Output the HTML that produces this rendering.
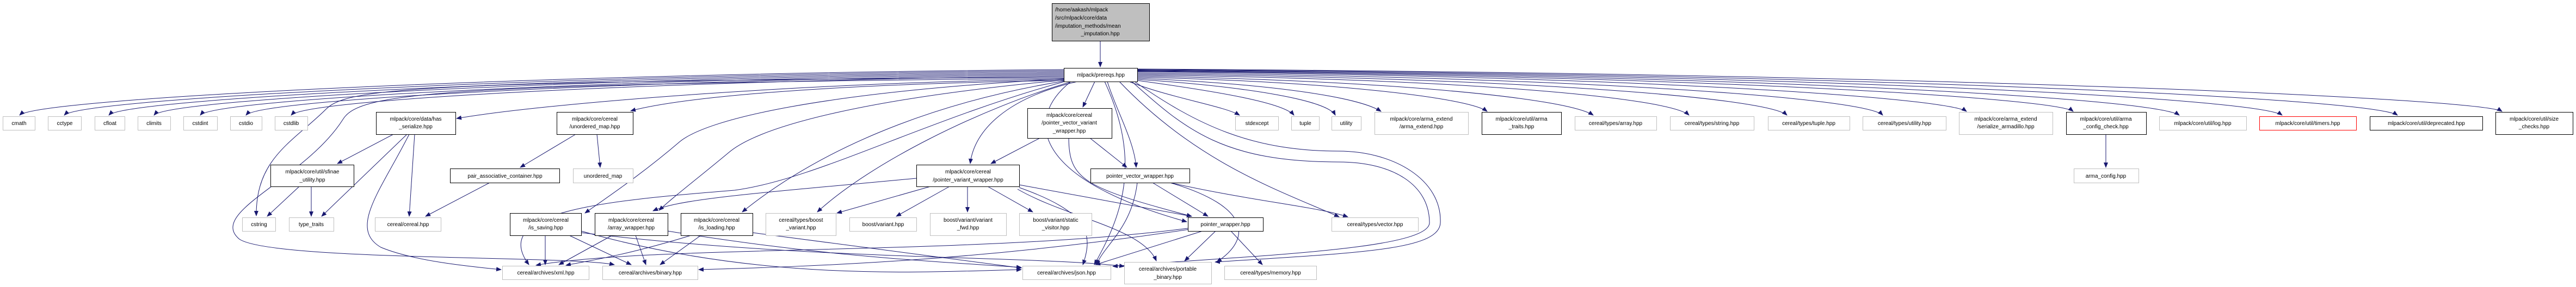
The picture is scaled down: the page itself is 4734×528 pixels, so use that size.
<!DOCTYPE html>
<html><head><meta charset="utf-8"><style>
html,body{margin:0;padding:0;background:#fff;}
svg{display:block}
text{font-family:"Liberation Sans",Arial,sans-serif;font-size:10px;fill:#000}
.e{fill:none;stroke:#191970;stroke-width:1;marker-end:url(#a)}
.g{fill:#fff;stroke:#bfbfbf}
.b{fill:#fff;stroke:#000}
.r{fill:#fff;stroke:#ff0000}
</style></head><body>
<svg width="4734" height="528" viewBox="0 0 4734 528" xmlns="http://www.w3.org/2000/svg">
<defs><marker id="a" markerWidth="10" markerHeight="8" refX="9" refY="4" orient="auto" markerUnits="userSpaceOnUse"><path d="M0,0 L10,4 L0,8 z" fill="#191970"/></marker></defs>
<g>
<path class="e" d="M2022,75 L2022,123"/>
<path class="e" d="M1955,128 C1000,135 70,180 36,212"/>
<path class="e" d="M1955,130 C1050,137 150,180 118,212"/>
<path class="e" d="M1955,132 C1100,139 230,180 200,212"/>
<path class="e" d="M1955,134 C1150,141 310,180 283,212"/>
<path class="e" d="M1955,136 C1200,143 395,180 368,212"/>
<path class="e" d="M1955,138 C1250,145 480,180 452,212"/>
<path class="e" d="M1955,140 C1300,147 565,180 535,212"/>
<path class="e" d="M1955,142 C800,150 640,160 600,200 C540,260 470,290 471,397"/>
<path class="e" d="M1955,144 C800,155 660,170 630,220 C560,330 380,390 440,440 C500,480 1050,470 1129,487"/>
<path class="e" d="M1955,146 C1500,150 1000,190 839,218"/>
<path class="e" d="M1955,148 C1500,155 1250,180 1159,204"/>
<path class="e" d="M2012,150 L1990,197"/>
<path class="e" d="M1980,150 C1850,180 1790,240 1783,301"/>
<path class="e" d="M2035,150 C2050,200 2085,260 2088,308"/>
<path class="e" d="M1968,150 C1880,220 1900,330 2181,408"/>
<path class="e" d="M2057,150 C2200,300 2350,350 2461,399"/>
<path class="e" d="M2085,150 C2200,230 2300,278 2460,278 C2560,278 2650,330 2647,410 C2645,460 2500,465 2233,482"/>
<path class="e" d="M2080,150 C2180,240 2250,298 2460,298 C2560,298 2627,340 2627,410 C2625,460 2300,470 2045,490"/>
<path class="e" d="M2075,150 C2150,180 2250,195 2278,212"/>
<path class="e" d="M2090,148 C2250,170 2360,190 2378,212"/>
<path class="e" d="M2090,146 C2300,160 2440,185 2454,212"/>
<path class="e" d="M2090,144 C2350,155 2500,180 2538,205"/>
<path class="e" d="M2090,142 C2450,150 2700,180 2733,205"/>
<path class="e" d="M2090,140 C2550,148 2880,180 2928,212"/>
<path class="e" d="M2090,138 C2700,145 3070,180 3104,212"/>
<path class="e" d="M2090,136 C2800,143 3250,180 3284,212"/>
<path class="e" d="M2090,134 C2900,141 3430,180 3460,212"/>
<path class="e" d="M2090,132 C3000,139 3580,180 3614,205"/>
<path class="e" d="M2090,131 C3100,138 3780,180 3810,205"/>
<path class="e" d="M2090,130 C3200,137 3960,180 4005,212"/>
<path class="e" d="M2090,129 C3300,136 4150,180 4194,212"/>
<path class="e" d="M2090,128 C3400,135 4360,180 4406,212"/>
<path class="e" d="M2090,127 C3500,134 4560,180 4598,205"/>
<path class="e" d="M3870,247 L3870,308"/>
<path class="e" d="M1955,145 C1500,170 1300,220 1250,260 C1180,320 1120,360 1075,392"/>
<path class="e" d="M1958,147 C1600,180 1400,230 1340,280 C1280,330 1240,360 1211,387"/>
<path class="e" d="M1962,148 C1700,190 1500,280 1364,390"/>
<path class="e" d="M1970,150 C1800,200 1600,300 1502,390"/>
<path class="e" d="M1960,149 C1700,220 1500,330 1350,350 C1100,370 900,390 972,487"/>
<path class="e" d="M2030,150 C2100,300 2060,400 2011,487"/>
<path class="e" d="M723,247 L620,301"/>
<path class="e" d="M748,247 L591,398"/>
<path class="e" d="M762,247 L752,398"/>
<path class="e" d="M752,247 C700,350 640,420 700,455 C760,480 860,490 921,496"/>
<path class="e" d="M550,343 L491,398"/>
<path class="e" d="M572,343 L572,398"/>
<path class="e" d="M1058,247 L956,308"/>
<path class="e" d="M1097,247 L1103,308"/>
<path class="e" d="M900,336 L782,398"/>
<path class="e" d="M1911,254 L1821,301"/>
<path class="e" d="M2003,254 L2071,308"/>
<path class="e" d="M1964,254 C1965,330 1990,345 2190,398"/>
<path class="e" d="M1710,343 L1538,392"/>
<path class="e" d="M1745,343 L1647,398"/>
<path class="e" d="M1778,343 L1778,390"/>
<path class="e" d="M1815,343 L1898,390"/>
<path class="e" d="M1873,340 L2190,398"/>
<path class="e" d="M1873,345 C2000,390 2010,430 1990,487"/>
<path class="e" d="M1870,348 C1960,400 2100,420 2125,480"/>
<path class="e" d="M1684,328 C1400,355 1250,365 1200,388"/>
<path class="e" d="M2118,336 L2220,398"/>
<path class="e" d="M2090,336 C2080,420 2030,450 2015,487"/>
<path class="e" d="M2150,336 C2300,380 2300,440 2236,482"/>
<path class="e" d="M2150,336 C2300,370 2420,380 2477,399"/>
<path class="e" d="M2210,425 L2013,487"/>
<path class="e" d="M2234,425 L2177,480"/>
<path class="e" d="M2262,425 L2320,487"/>
<path class="e" d="M2183,420 C1800,470 1200,450 985,488"/>
<path class="e" d="M2185,422 C1800,480 1500,490 1284,496"/>
<path class="e" d="M1002,433 L1002,487"/>
<path class="e" d="M1046,433 L1160,487"/>
<path class="e" d="M1068,425 C1400,520 1700,500 1877,496"/>
<path class="e" d="M1068,428 C1500,480 1900,470 2066,490"/>
<path class="e" d="M1125,433 L1027,487"/>
<path class="e" d="M1168,433 L1187,487"/>
<path class="e" d="M1227,425 C1500,470 1700,480 1877,492"/>
<path class="e" d="M1288,433 L1213,487"/>
<path class="e" d="M1383,428 L1877,493"/>
<path class="e" d="M1270,433 C1150,470 1080,480 1040,488"/>
</g>
<g>
<rect x="1933.5" y="6.5" width="179" height="69" fill="#bfbfbf" stroke="#000"/>
<text x="1939" y="21">/home/aakash/mlpack</text><text x="1939" y="36">/src/mlpack/core/data</text><text x="1939" y="51">/imputation_methods/mean</text><text x="2022" y="65" text-anchor="middle">_imputation.hpp</text>
</g>
<g text-anchor="middle">
<rect class="b" x="1955.5" y="125.5" width="135" height="25"/><text x="2023" y="141">mlpack/prereqs.hpp</text>
<rect class="g" x="5.5" y="214.5" width="59" height="25"/><text x="35" y="230">cmath</text>
<rect class="g" x="88.5" y="214.5" width="61" height="25"/><text x="119" y="230">cctype</text>
<rect class="g" x="174.5" y="214.5" width="55" height="25"/><text x="202" y="230">cfloat</text>
<rect class="g" x="253.5" y="214.5" width="60" height="25"/><text x="283" y="230">climits</text>
<rect class="g" x="337.5" y="214.5" width="62" height="25"/><text x="368" y="230">cstdint</text>
<rect class="g" x="423.5" y="214.5" width="58" height="25"/><text x="452" y="230">cstdio</text>
<rect class="g" x="505.5" y="214.5" width="60" height="25"/><text x="535" y="230">cstdlib</text>
<rect class="b" x="691.5" y="206.5" width="146" height="41"/><text x="764" y="222">mlpack/core/data/has</text><text x="764" y="236">_serialize.hpp</text>
<rect class="b" x="1023.5" y="206.5" width="140" height="41"/><text x="1093" y="222">mlpack/core/cereal</text><text x="1093" y="236">/unordered_map.hpp</text>
<rect class="b" x="1888.5" y="199.5" width="155" height="55"/><text x="1965" y="215">mlpack/core/cereal</text><text x="1965" y="229">/pointer_vector_variant</text><text x="1965" y="244">_wrapper.hpp</text>
<rect class="g" x="2270.5" y="214.5" width="79" height="25"/><text x="2310" y="230">stdexcept</text>
<rect class="g" x="2373.5" y="214.5" width="51" height="25"/><text x="2399" y="230">tuple</text>
<rect class="g" x="2447.5" y="214.5" width="54" height="25"/><text x="2474" y="230">utility</text>
<rect class="g" x="2526.5" y="206.5" width="172" height="41"/><text x="2612" y="222">mlpack/core/arma_extend</text><text x="2612" y="236">/arma_extend.hpp</text>
<rect class="b" x="2723.5" y="206.5" width="146" height="41"/><text x="2796" y="222">mlpack/core/util/arma</text><text x="2796" y="236">_traits.hpp</text>
<rect class="g" x="2894.5" y="214.5" width="150" height="25"/><text x="2969" y="230">cereal/types/array.hpp</text>
<rect class="g" x="3069.5" y="214.5" width="154" height="25"/><text x="3146" y="230">cereal/types/string.hpp</text>
<rect class="g" x="3249.5" y="214.5" width="150" height="25"/><text x="3324" y="230">cereal/types/tuple.hpp</text>
<rect class="g" x="3423.5" y="214.5" width="153" height="25"/><text x="3500" y="230">cereal/types/utility.hpp</text>
<rect class="g" x="3600.5" y="206.5" width="172" height="41"/><text x="3686" y="222">mlpack/core/arma_extend</text><text x="3686" y="236">/serialize_armadillo.hpp</text>
<rect class="b" x="3797.5" y="206.5" width="147" height="41"/><text x="3870" y="222">mlpack/core/util/arma</text><text x="3870" y="236">_config_check.hpp</text>
<rect class="g" x="3968.5" y="214.5" width="160" height="25"/><text x="4048" y="230">mlpack/core/util/log.hpp</text>
<rect class="r" x="4152.5" y="214.5" width="178" height="25"/><text x="4241" y="230">mlpack/core/util/timers.hpp</text>
<rect class="b" x="4355.5" y="214.5" width="207" height="25"/><text x="4459" y="230">mlpack/core/util/deprecated.hpp</text>
<rect class="b" x="4586.5" y="206.5" width="142" height="41"/><text x="4657" y="222">mlpack/core/util/size</text><text x="4657" y="236">_checks.hpp</text>
<rect class="b" x="497.5" y="303.5" width="153" height="40"/><text x="574" y="319">mlpack/core/util/sfinae</text><text x="574" y="334">_utility.hpp</text>
<rect class="b" x="827.5" y="310.5" width="201" height="26"/><text x="928" y="327">pair_associative_container.hpp</text>
<rect class="g" x="1053.5" y="310.5" width="110" height="26"/><text x="1108" y="327">unordered_map</text>
<rect class="b" x="1684.5" y="303.5" width="189" height="40"/><text x="1779" y="319">mlpack/core/cereal</text><text x="1779" y="334">/pointer_variant_wrapper.hpp</text>
<rect class="b" x="2004.5" y="310.5" width="182" height="26"/><text x="2095" y="327">pointer_vector_wrapper.hpp</text>
<rect class="g" x="3811.5" y="310.5" width="119" height="26"/><text x="3870" y="327">arma_config.hpp</text>
<rect class="g" x="445.5" y="400.5" width="61" height="25"/><text x="476" y="416">cstring</text>
<rect class="g" x="531.5" y="400.5" width="82" height="25"/><text x="572" y="416">type_traits</text>
<rect class="g" x="689.5" y="400.5" width="121" height="25"/><text x="750" y="416">cereal/cereal.hpp</text>
<rect class="b" x="937.5" y="392.5" width="131" height="41"/><text x="1003" y="408">mlpack/core/cereal</text><text x="1003" y="422">/is_saving.hpp</text>
<rect class="b" x="1093.5" y="392.5" width="134" height="41"/><text x="1160" y="408">mlpack/core/cereal</text><text x="1160" y="422">/array_wrapper.hpp</text>
<rect class="b" x="1251.5" y="392.5" width="132" height="41"/><text x="1317" y="408">mlpack/core/cereal</text><text x="1317" y="422">/is_loading.hpp</text>
<rect class="g" x="1407.5" y="392.5" width="129" height="41"/><text x="1472" y="408">cereal/types/boost</text><text x="1472" y="422">_variant.hpp</text>
<rect class="g" x="1561.5" y="400.5" width="123" height="25"/><text x="1623" y="416">boost/variant.hpp</text>
<rect class="g" x="1709.5" y="392.5" width="140" height="41"/><text x="1779" y="408">boost/variant/variant</text><text x="1779" y="422">_fwd.hpp</text>
<rect class="g" x="1873.5" y="392.5" width="133" height="41"/><text x="1940" y="408">boost/variant/static</text><text x="1940" y="422">_visitor.hpp</text>
<rect class="b" x="2183.5" y="400.5" width="138" height="25"/><text x="2252" y="416">pointer_wrapper.hpp</text>
<rect class="g" x="2447.5" y="400.5" width="159" height="25"/><text x="2527" y="416">cereal/types/vector.hpp</text>
<rect class="g" x="923.5" y="489.5" width="159" height="25"/><text x="1003" y="505">cereal/archives/xml.hpp</text>
<rect class="g" x="1107.5" y="489.5" width="175" height="25"/><text x="1195" y="505">cereal/archives/binary.hpp</text>
<rect class="g" x="1879.5" y="489.5" width="162" height="25"/><text x="1960" y="505">cereal/archives/json.hpp</text>
<rect class="g" x="2066.5" y="482.5" width="160" height="40"/><text x="2146" y="498">cereal/archives/portable</text><text x="2146" y="513">_binary.hpp</text>
<rect class="g" x="2250.5" y="489.5" width="169" height="25"/><text x="2335" y="505">cereal/types/memory.hpp</text>
</g>
</svg>
</body></html>
